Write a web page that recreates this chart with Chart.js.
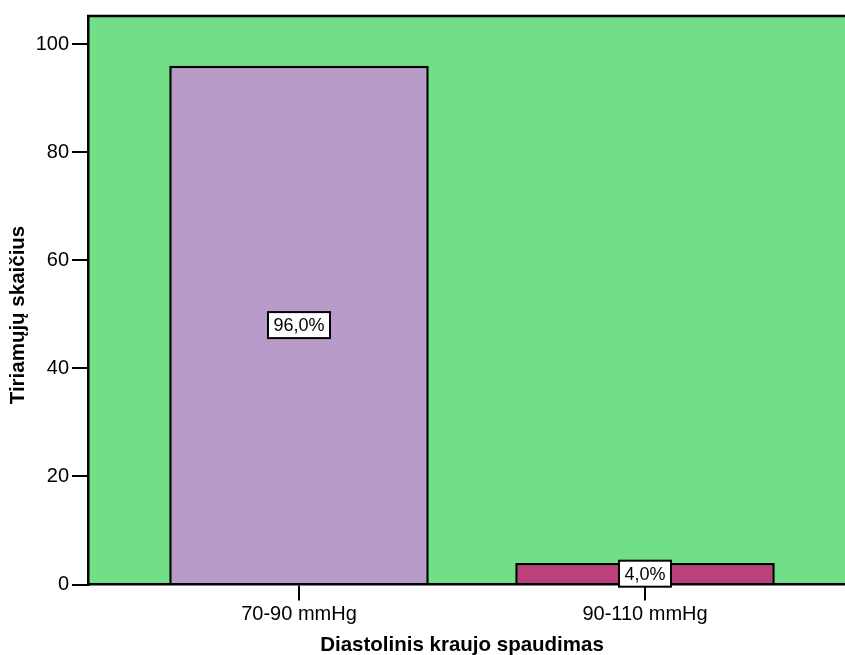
<!DOCTYPE html>
<html>
<head>
<meta charset="utf-8">
<script src="https://cdn.jsdelivr.net/npm/chart.js@4/dist/chart.umd.min.js"></script>
<style>
  html, body { margin: 0; padding: 0; background: #ffffff; }
  #wrap { width: 845px; height: 655px; position: relative; }
</style>
</head>
<body>
<div id="wrap"><canvas id="c" width="845" height="655"></canvas></div>
<script>
// Diastolic blood pressure groups and number of subjects in each
const categories = ['70-90 mmHg', '90-110 mmHg'];
const counts = [96, 4];
const barColors = ['#b89bc8', '#bb407c'];
const yTicks = [0, 20, 40, 60, 80, 100];

const xTitle = 'Diastolinis kraujo spaudimas';
const yTitle = 'Tiriamųjų skaičius';

const FONT = '"Liberation Sans", Arial, Helvetica, sans-serif';
const total = counts.reduce((a, b) => a + b, 0);
const pctLabel = v => (v / total * 100).toFixed(1).replace('.', ',') + '%';

// Green plot background, top frame line, percentage boxes and axis titles
const decor = {
  id: 'decor',
  beforeDraw(chart) {
    const { ctx, chartArea: a } = chart;
    ctx.save();
    ctx.fillStyle = '#72de87';
    ctx.fillRect(a.left, a.top, a.right - a.left, a.bottom - a.top);
    ctx.restore();
  },
  afterDraw(chart) {
    const { ctx, chartArea: a, scales } = chart;
    ctx.save();
    ctx.strokeStyle = '#000';
    ctx.lineWidth = 2.5;
    ctx.beginPath();
    ctx.moveTo(a.left - 1, a.top);
    ctx.lineTo(a.right, a.top);
    ctx.stroke();

    // percentage labels centred in each bar
    ctx.font = '18px ' + FONT;
    ctx.textAlign = 'center';
    ctx.textBaseline = 'middle';
    counts.forEach((v, i) => {
      const cx = scales.x.getPixelForValue(i);
      const cy = scales.y.getPixelForValue(v / 2);
      const txt = pctLabel(v);
      const w = ctx.measureText(txt).width + 11;
      const h = 26;
      ctx.fillStyle = '#fff';
      ctx.fillRect(cx - w / 2, cy - h / 2, w, h);
      ctx.lineWidth = 2;
      ctx.strokeStyle = '#000';
      ctx.strokeRect(cx - w / 2, cy - h / 2, w, h);
      ctx.fillStyle = '#000';
      ctx.fillText(txt, cx, cy + 1);
    });

    // axis titles
    ctx.font = 'bold 20.5px ' + FONT;
    ctx.fillStyle = '#000';
    ctx.textAlign = 'center';
    ctx.textBaseline = 'middle';
    ctx.fillText(xTitle, 462, 645);
    ctx.translate(18, 315);
    ctx.rotate(-Math.PI / 2);
    ctx.fillText(yTitle, 0, 0);
    ctx.restore();
  }
};

new Chart(document.getElementById('c'), {
  type: 'bar',
  data: {
    datasets: [{
      data: counts.map((v, i) => ({ x: i, y: v })),
      backgroundColor: barColors,
      borderColor: '#000',
      borderWidth: 2.5,
      borderSkipped: 'bottom',
      barPercentage: 0.75,
      categoryPercentage: 1
    }]
  },
  options: {
    responsive: false,
    animation: false,
    devicePixelRatio: 1,
    layout: { padding: { top: 16, right: 0, left: 0, bottom: 0 } },
    plugins: { legend: { display: false }, tooltip: { enabled: false } },
    scales: {
      x: {
        type: 'linear',
        offset: false,
        min: -0.6098,
        max: 1.578,
        afterBuildTicks: s => { s.ticks = categories.map((c, i) => ({ value: i })); },
        afterFit: s => { s.height = 70.5; },
        grid: { offset: false, drawOnChartArea: false, drawTicks: true, tickLength: 16, color: '#000', lineWidth: 2 },
        border: { display: true, color: '#000', width: 2.5, z: 1 },
        ticks: {
          autoSkip: false, maxRotation: 0, padding: 2,
          color: '#000',
          font: { family: FONT, size: 20 },
          callback: v => categories[v]
        }
      },
      y: {
        min: 0,
        max: 105.2,
        afterBuildTicks: s => { s.ticks = yTicks.map(v => ({ value: v })); },
        afterFit: s => { s.width = 88; },
        grid: { drawOnChartArea: false, drawTicks: true, tickLength: 16, color: '#000', lineWidth: 2 },
        border: { display: true, color: '#000', width: 2.5 },
        ticks: {
          padding: 3,
          color: '#000',
          font: { family: FONT, size: 20 }
        }
      }
    }
  },
  plugins: [decor]
});
</script>
</body>
</html>
